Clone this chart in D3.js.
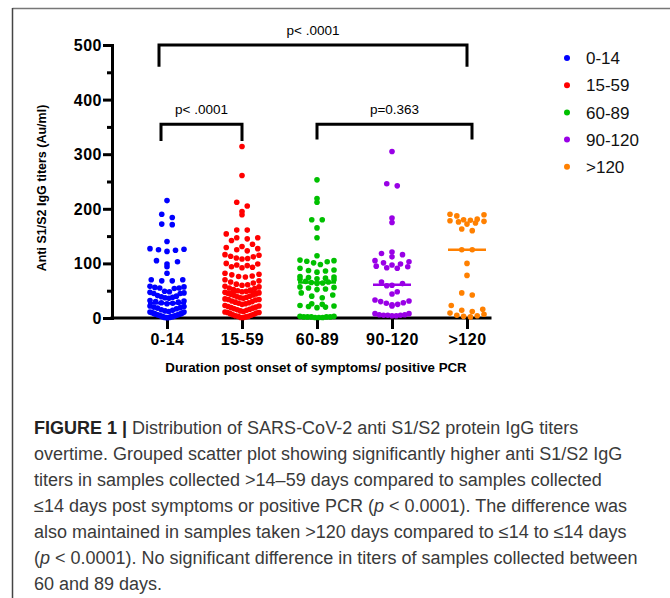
<!DOCTYPE html>
<html>
<head>
<meta charset="utf-8">
<script src="https://cdn.jsdelivr.net/npm/d3@7"></script>
<style>
  body { margin: 0; background: #fff; }
  svg { display: block; font-family: "Liberation Sans", Arial, sans-serif; }
</style>
</head>
<body>
<div class="vis-scatter"></div>
<script>
// groups on the x axis
const categories = ["0-14", "15-59", "60-89", "90-120", ">120"];

// anti S1/S2 IgG titers (Au/ml)
const titers0_14 = [215, 190, 184, 172, 171, 140, 127, 125, 122, 124, 126, 105, 103, 99, 94, 82,
    70, 68, 68, 70, 58, 56, 55, 54, 55, 57, 49, 47, 45, 45, 46, 48, 41, 39, 37, 36, 38, 40,
    31, 29, 27, 26, 28, 30, 32, 22, 20, 18, 17, 19, 21, 14, 12, 11, 10, 11, 13, 15,
    9, 8, 7, 6, 7, 8, 9, 5, 4, 3, 3, 4, 5, 6, 2, 1, 1, 0.5, 1, 2, 2.5];
const titers15_59 = [314, 261, 212, 205, 195, 189, 161, 161, 154, 147, 145, 147, 142,
    135, 131, 127, 123, 125, 129, 116, 113, 110, 108, 109, 112, 115,
    99, 96, 93, 92, 94, 97, 100, 82, 79, 76, 75, 77, 80, 70, 66, 62, 60, 61, 64, 68,
    58, 55, 52, 50, 49, 51, 54, 57, 47, 45, 43, 41, 40, 42, 44, 46, 48,
    38, 36, 34, 33, 34, 35, 37, 39, 31, 29, 27, 25, 26, 28, 30,
    22, 20, 18, 16, 17, 19, 21, 23, 14, 12, 10, 9, 10, 11, 13, 15,
    8, 6, 4, 3, 2, 3, 5, 7, 1, 1];
const titers60_89 = [253, 219, 212, 180, 180, 165, 147, 114, 106, 104, 103, 105, 101,
    98, 91, 88, 86, 84, 87, 75, 73, 71, 70, 72, 74, 76, 67, 65, 64, 63, 66,
    57, 55, 53, 52, 56, 46, 42, 37, 40, 26, 23, 21, 19, 20, 22, 25,
    3, 2, 2, 1, 1, 1, 2, 2, 3, 2];
const titers90_120 = [305, 246, 242, 183, 175, 121, 118, 116, 112,
    105, 103, 99, 95, 92, 91, 94, 97, 101, 66, 63, 60, 59, 48, 44,
    33, 30, 27, 24, 22, 25, 28, 31, 8, 6, 5, 4, 4, 5, 5, 6, 8];
const titers120 = [189, 187, 190, 181, 179, 178, 176, 172, 174, 177, 180, 160, 163,
    125, 125, 100, 78, 46, 42, 23, 16, 12, 7, 4, 2, 3, 5, 9, 14];

// median line of each group
const medians = [27, 48, 65, 61, 125];

const yTicks = [0, 100, 200, 300, 400, 500];
const yMinorTicks = [50, 150, 250, 350, 450];

// significance brackets (bar level and leg ends in Au/ml)
const brackets = [
    { from: "0-14", to: ">120", level: 500, legEnd: 460, label: "p< .0001" },
    { from: "0-14", to: "15-59", level: 355, legEnd: 324, label: "p< .0001" },
    { from: "60-89", to: ">120", level: 355, legEnd: 327, label: "p=0.363" }
];

const captionLines = [
    [["FIGURE 1 | ", "b"], ["Distribution of SARS-CoV-2 anti S1/S2 protein IgG titers"]],
    [["overtime. Grouped scatter plot showing significantly higher anti S1/S2 IgG"]],
    [["titers in samples collected >14–59 days compared to samples collected"]],
    [["≤14 days post symptoms or positive PCR ("], ["p", "i"], [" < 0.0001). The difference was"]],
    [["also maintained in samples taken >120 days compared to ≤14 to ≤14 days"]],
    [["("], ["p", "i"], [" < 0.0001). No significant difference in titers of samples collected between"]],
    [["60 and 89 days."]]
];

const groups = [titers0_14, titers15_59, titers60_89, titers90_120, titers120];
const colors = ["#0000ff", "#ff0000", "#00c000", "#9900e6", "#ff8000"];

const width = 670, height = 598;
const svg = d3.select(".vis-scatter")
    .append("svg")
    .attr("width", width)
    .attr("height", height);

// page frame
svg.append("line").attr("x1", 12.5).attr("x2", width).attr("y1", 8.5).attr("y2", 8.5)
    .attr("stroke", "#777").attr("stroke-width", 1.5);
svg.append("line").attr("x1", 12.5).attr("x2", 12.5).attr("y1", 8).attr("y2", height)
    .attr("stroke", "#444").attr("stroke-width", 1.5);

const y = d3.scaleLinear().domain([0, 500]).range([318, 45]);
const x = d3.scalePoint().domain(categories).range([167, 467]);
const axisLeftX = 112, axisRightX = 490;

// Y axis
const yAxis = svg.append("g")
    .attr("transform", "translate(" + axisLeftX + ",0)")
    .call(d3.axisLeft(y).tickValues(yTicks).tickSize(9).tickSizeOuter(0).tickPadding(1));
yAxis.select(".domain").attr("stroke-width", 3).attr("stroke-linecap", "square");
yAxis.selectAll(".tick line").attr("stroke-width", 3);
yAxis.selectAll(".tick text")
    .attr("font-family", "Liberation Sans, Arial, sans-serif")
    .attr("font-size", 16).attr("font-weight", "bold").attr("letter-spacing", 0.5)
    .attr("fill", "#000").attr("dy", "0.34em");

svg.append("g")
    .attr("transform", "translate(" + axisLeftX + ",0)")
    .call(d3.axisLeft(y).tickValues(yMinorTicks).tickSize(5).tickFormat(""))
    .call(g => g.select(".domain").remove())
    .selectAll(".tick line").attr("stroke-width", 3);

// X axis
svg.append("line")
    .attr("x1", axisLeftX).attr("x2", axisRightX)
    .attr("y1", y(0)).attr("y2", y(0))
    .attr("stroke", "#000").attr("stroke-width", 3).attr("stroke-linecap", "square");
const xAxis = svg.append("g")
    .attr("transform", "translate(0," + y(0) + ")")
    .call(d3.axisBottom(x).tickSize(11).tickPadding(5));
xAxis.select(".domain").remove();
xAxis.selectAll(".tick line").attr("stroke-width", 3);
xAxis.selectAll(".tick text")
    .attr("font-family", "Liberation Sans, Arial, sans-serif")
    .attr("font-size", 16).attr("font-weight", "bold").attr("letter-spacing", 0.5)
    .attr("fill", "#000");

// axis titles
svg.append("text")
    .attr("transform", "translate(46,188) rotate(-90)")
    .attr("text-anchor", "middle")
    .attr("font-size", 12.5).attr("font-weight", "bold")
    .text("Anti S1/S2 IgG titers (Au/ml)");
svg.append("text")
    .attr("x", 316).attr("y", 372)
    .attr("text-anchor", "middle")
    .attr("font-size", 13.3).attr("font-weight", "bold")
    .text("Duration post onset of symptoms/ positive PCR");

// column scatter: points of one row are spread out, lowest in the middle
const rowPx = 6.5, spread = 34, maxGap = 10.5, r = 2.8;
function layout(values, cx) {
    const rows = d3.group(values, v => Math.floor((y(0) - y(v)) / rowPx));
    const out = [];
    rows.forEach(function (vals) {
        vals = vals.slice().sort(d3.ascending);
        const n = vals.length;
        const gap = n > 1 ? Math.min(maxGap, spread / (n - 1)) : 0;
        const slots = d3.range(n).map(i => (i - (n - 1) / 2) * gap)
            .sort((a, b) => Math.abs(a) - Math.abs(b) || b - a);
        vals.forEach((v, i) => out.push({ x: cx + slots[i], v: v }));
    });
    return out;
}

groups.forEach(function (vals, gi) {
    const cx = x(categories[gi]);
    svg.append("g")
        .selectAll("circle")
        .data(layout(vals, cx))
        .join("circle")
        .attr("cx", d => d.x)
        .attr("cy", d => y(d.v))
        .attr("r", r)
        .attr("fill", colors[gi]);
    svg.append("line")
        .attr("x1", cx - 19).attr("x2", cx + 19)
        .attr("y1", y(medians[gi])).attr("y2", y(medians[gi]))
        .attr("stroke", colors[gi]).attr("stroke-width", 2.5);
});

// brackets
const bracketNudge = [[-8, 0], [-6, 0], [0, 5]];
brackets.forEach(function (b, i) {
    const x1 = x(b.from) + bracketNudge[i][0], x2 = x(b.to) + bracketNudge[i][1];
    svg.append("path")
        .attr("d", "M" + x1 + "," + y(b.legEnd) + "V" + y(b.level) + "H" + x2 + "V" + y(b.legEnd))
        .attr("fill", "none").attr("stroke", "#000").attr("stroke-width", 3);
    svg.append("text")
        .attr("x", (x1 + x2) / 2).attr("y", y(b.level) - 10)
        .attr("text-anchor", "middle")
        .attr("font-size", 13.5)
        .text(b.label);
});

// legend
const legend = svg.append("g").selectAll("g")
    .data(categories)
    .join("g")
    .attr("transform", (d, i) => "translate(567," + (58 + i * 27.2) + ")");
legend.append("circle").attr("r", 3).attr("fill", (d, i) => colors[i]);
legend.append("text").attr("x", 19).attr("dy", "0.36em")
    .attr("font-size", 17).attr("fill", "#111")
    .text(d => d);

// caption
const caption = svg.append("g").attr("fill", "#3a3a3a").attr("font-size", 18);
captionLines.forEach(function (line, i) {
    const t = caption.append("text").attr("x", 34).attr("y", 434 + i * 26);
    line.forEach(function (seg) {
        t.append("tspan")
            .attr("font-weight", seg[1] === "b" ? "bold" : null)
            .attr("fill", seg[1] === "b" ? "#222" : null)
            .attr("font-style", seg[1] === "i" ? "italic" : null)
            .text(seg[0]);
    });
});
</script>
</body>
</html>
